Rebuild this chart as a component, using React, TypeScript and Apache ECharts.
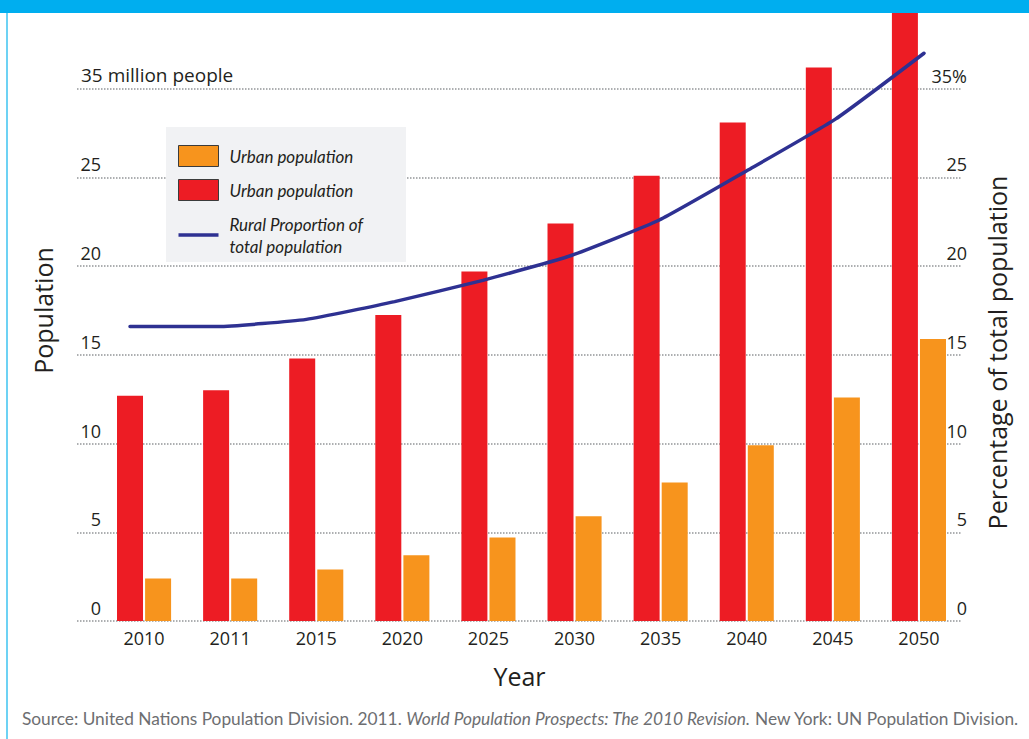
import React, { useEffect, useRef } from 'react';
import * as echarts from 'echarts';

const years = ['2010', '2011', '2015', '2020', '2025', '2030', '2035', '2040', '2045', '2050'];
const urbanRed = [12.7, 13.0, 14.8, 17.25, 19.7, 22.4, 25.1, 28.1, 31.2, 35];
const urbanOrange = [2.4, 2.4, 2.9, 3.7, 4.7, 5.9, 7.8, 9.9, 12.6, 15.9];
const ruralProportion = [16.6, 16.6, 17.0, 18.0, 19.2, 20.6, 22.6, 25.4, 28.3, 32.0];
const leftTickLabels: Record<number, string> = { 0: '0', 5: '5', 10: '10', 15: '15', 20: '20', 25: '25', 30: '35 million people' };
const rightTickLabels: Record<number, string> = { 0: '0', 5: '5', 10: '10', 15: '15', 20: '20', 25: '25', 30: '35%' };
const legendLabels: Record<string, string> = {
  urbanOrange: 'Urban population',
  urbanRed: 'Urban population',
  rural: 'Rural Proportion of\ntotal population',
};

const TXT = '#231F20';
const GRIDC = '#939598';
const FONT = 'Open Sans';
const LINEC = '#2E3192';

export default function App() {
  const ref = useRef<HTMLDivElement>(null);
  useEffect(() => {
    if (!ref.current) return;
    const chart = echarts.init(ref.current, null, { renderer: 'svg' });
    const grids = [
      { left: 77, right: 67, top: -4, bottom: 118 },
      { left: 101, right: 67, top: -4, bottom: 118 },
      { left: 130, right: 105, top: -4, bottom: 118 },
    ];
    const hiddenY = (gi: number) => ({ type: 'value', gridIndex: gi, min: 0, max: 35, interval: 5, show: false });
    chart.setOption({
      animation: false,
      backgroundColor: '#ffffff',
      grid: grids,
      xAxis: [
        {
          type: 'value', gridIndex: 0, min: 0, max: 1,
          axisLine: { show: false }, axisTick: { show: false }, axisLabel: { show: false }, splitLine: { show: false },
          name: 'Year', nameLocation: 'middle', nameGap: 42,
          nameTextStyle: { fontFamily: FONT, fontSize: 25, color: TXT },
        },
        {
          type: 'category', gridIndex: 1, data: years,
          axisLine: { show: false }, axisTick: { show: false },
          axisLabel: { fontFamily: FONT, fontSize: 18, color: TXT, margin: 8 },
        },
        { type: 'category', gridIndex: 2, data: years, boundaryGap: false, show: false },
      ],
      yAxis: [
        {
          type: 'value', gridIndex: 0, position: 'left', min: 0, max: 35, interval: 5,
          axisLine: { show: false }, axisTick: { show: false },
          splitLine: { show: true, lineStyle: { type: [1.5, 1.5], color: GRIDC, width: 1.5 } },
          axisLabel: {
            inside: true, margin: 4, verticalAlign: 'bottom', padding: [0, 0, 4, 0],
            formatter: (v: number) => (v === 30 ? '{m|' + leftTickLabels[v] + '}' : leftTickLabels[v] !== undefined ? '{n|' + leftTickLabels[v] + '}' : ''),
            rich: {
              n: { width: 20, align: 'right', fontFamily: FONT, fontSize: 18, color: TXT },
              m: { fontFamily: FONT, fontSize: 19, color: TXT },
            },
          },
          name: 'Population', nameLocation: 'middle', nameRotate: 90, nameGap: 22,
          nameTextStyle: { fontFamily: FONT, fontSize: 25, color: TXT },
        },
        {
          type: 'value', gridIndex: 0, position: 'right', min: 0, max: 35, interval: 5,
          axisLine: { show: false }, axisTick: { show: false }, splitLine: { show: false },
          axisLabel: {
            inside: true, margin: -5, verticalAlign: 'bottom', padding: [0, 0, 4, 0],
            fontFamily: FONT, fontSize: 18, color: TXT,
            formatter: (v: number) => rightTickLabels[v] ?? '',
          },
          name: 'Percentage of total population', nameLocation: 'middle', nameRotate: 90, nameGap: 22,
          nameTextStyle: { fontFamily: FONT, fontSize: 25, color: TXT, padding: [0, 84, 0, 0] },
        },
        hiddenY(1),
        hiddenY(2),
      ],
      legend: {
        orient: 'vertical', left: 166, top: 127,
        padding: [18, 43, 5, 12],
        itemWidth: 40, itemHeight: 21, itemGap: 12,
        backgroundColor: '#F1F2F4',
        selectedMode: false,
        symbolKeepAspect: true,
        data: [
          { name: 'urbanOrange', icon: 'rect', itemStyle: { borderColor: '#3b3b3b', borderWidth: 1 } },
          { name: 'urbanRed', icon: 'rect', itemStyle: { borderColor: '#3b3b3b', borderWidth: 1 } },
          { name: 'rural', icon: 'path://M0,0H40V3.5H0Z', itemStyle: { color: LINEC, borderWidth: 0 } },
        ],
        formatter: (n: string) => legendLabels[n],
        textStyle: { fontFamily: 'Lato', fontStyle: 'italic', fontSize: 17, color: TXT, lineHeight: 22, padding: [0, 0, 0, 6] },
      },
      series: [
        {
          name: 'urbanRed', type: 'bar', xAxisIndex: 1, yAxisIndex: 2, data: urbanRed,
          barWidth: 26, barGap: '8%', itemStyle: { color: '#ED1C24' },
        },
        {
          name: 'urbanOrange', type: 'bar', xAxisIndex: 1, yAxisIndex: 2, data: urbanOrange,
          barWidth: 26, barGap: '8%', itemStyle: { color: '#F7941D' },
        },
        {
          name: 'rural', type: 'line', xAxisIndex: 2, yAxisIndex: 3, data: ruralProportion,
          symbol: 'none', smooth: 0.15, itemStyle: { color: LINEC },
          lineStyle: { color: LINEC, width: 3.5, cap: 'round' }, z: 5,
        },
      ],
      graphic: [
        { type: 'rect', left: 0, top: 0, z: 100, shape: { width: 1029, height: 13 }, style: { fill: '#00AEEF' } },
        { type: 'line', z: 100, shape: { x1: 7, y1: 13, x2: 7, y2: 739 }, style: { stroke: '#3CC3F0', lineWidth: 1.5 } },
        {
          type: 'text', left: 22, top: 710, z: 100,
          style: {
            text: '{a|Source: United Nations Population Division. 2011. }{b|World Population Prospects: The 2010 Revision.}{a| New York: UN Population Division.}',
            rich: {
              a: { fontFamily: 'Lato', fontSize: 17.3, fill: '#6D6E71' },
              b: { fontFamily: 'Lato', fontSize: 17.3, fontStyle: 'italic', fill: '#6D6E71' },
            },
          },
        },
      ],
    });
    return () => chart.dispose();
  }, []);
  return <div ref={ref} style={{ position: 'fixed', left: 0, top: 0, width: 1029, height: 739 }} />;
}
